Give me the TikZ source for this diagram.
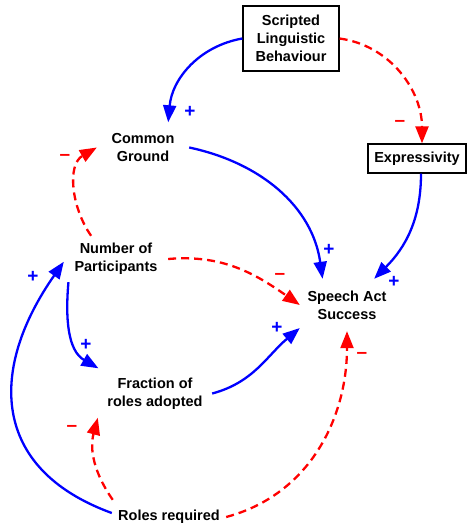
\documentclass[tikz,border=0pt]{standalone}
\usepackage{fontspec}
\setmainfont{Liberation Sans}
\usetikzlibrary{arrows.meta}
\definecolor{posblue}{RGB}{0,0,255}
\definecolor{negred}{RGB}{255,0,0}

\begin{document}
\begin{tikzpicture}[x=1pt,y=-1pt,
  lbl/.style={font=\fontsize{14.5}{18}\selectfont\bfseries, align=center, inner sep=0pt},
  boxed/.style={lbl, draw=black, line width=1.3pt},
  linktip/.style={-{Triangle[length=17pt,width=13pt]}},
  poslink/.style={draw=posblue, line width=2.3pt, linktip},
  neglink/.style={draw=negred, line width=2.3pt, dash pattern=on 8pt off 5pt, linktip},
  plussign/.style={text=posblue, font=\fontsize{19}{19}\selectfont\bfseries, inner sep=0pt},
  minussign/.style={text=negred, font=\fontsize{19}{19}\selectfont\bfseries, inner sep=0pt}
]
\useasboundingbox (0,0) rectangle (467,524);

% variables
\node[boxed, minimum width=96, minimum height=65] (slb) at (291,38.5) {Scripted\\Linguistic\\Behaviour};
\node[boxed, minimum width=98, minimum height=29] (expr) at (417,158.5) {Expressivity};
\node[lbl, minimum width=92, minimum height=50] (cg) at (143,147.5) {Common\\Ground};
\node[lbl, minimum width=104, minimum height=46] (nop) at (116,259) {Number of\\Participants};
\node[lbl, minimum width=94, minimum height=52] (sas) at (347,305) {Speech Act\\Success};
\node[lbl, minimum width=114, minimum height=50] (fr) at (155,393.5) {Fraction of\\roles adopted};
\node[lbl, minimum width=114, minimum height=34] (rr) at (169,517) {Roles required};

% causal links
\draw[poslink] (slb.west) to[out=190, in=85] (cg.45);
\draw[neglink] (slb.east) to[out=-8, in=90] ([xshift=5pt]expr.north);
\draw[poslink] (cg.east) to[out=-12, in=98] (sas.133);
\draw[poslink] ([xshift=4pt]expr.south) to[out=-90, in=45] (sas.44);
\draw[neglink] (nop.137) to[out=125, in=210] (cg.west);
\draw[neglink] (nop.east) to[out=5, in=145] (sas.west);
\draw[poslink] (rr.176) to[out=160, in=235, looseness=1.3] (nop.183);
\draw[poslink] (nop.206) to[out=-95, in=150] (fr.156);
\draw[poslink] (fr.east) to[out=15, in=220] (sas.206);
\draw[neglink] (rr.163) to[out=125, in=255] (fr.203);
\draw[neglink] (rr.east) to[out=15, in=-90] (sas.south);

% link polarities
\node[plussign]  (p1)  at (190,112) {+};
\node[minussign] (m2)  at (400,123) {–};
\node[plussign]  (p3)  at (329,250) {+};
\node[plussign]  (p4)  at (394,282) {+};
\node[minussign] (m5)  at (65,157)  {–};
\node[minussign] (m6)  at (280,276) {–};
\node[plussign]  (p7)  at (33,277)  {+};
\node[plussign]  (p8)  at (86,345)  {+};
\node[plussign]  (p9)  at (277,328) {+};
\node[minussign] (m10) at (72,428)  {–};
\node[minussign] (m11) at (362,355) {–};
\end{tikzpicture}
\end{document}
